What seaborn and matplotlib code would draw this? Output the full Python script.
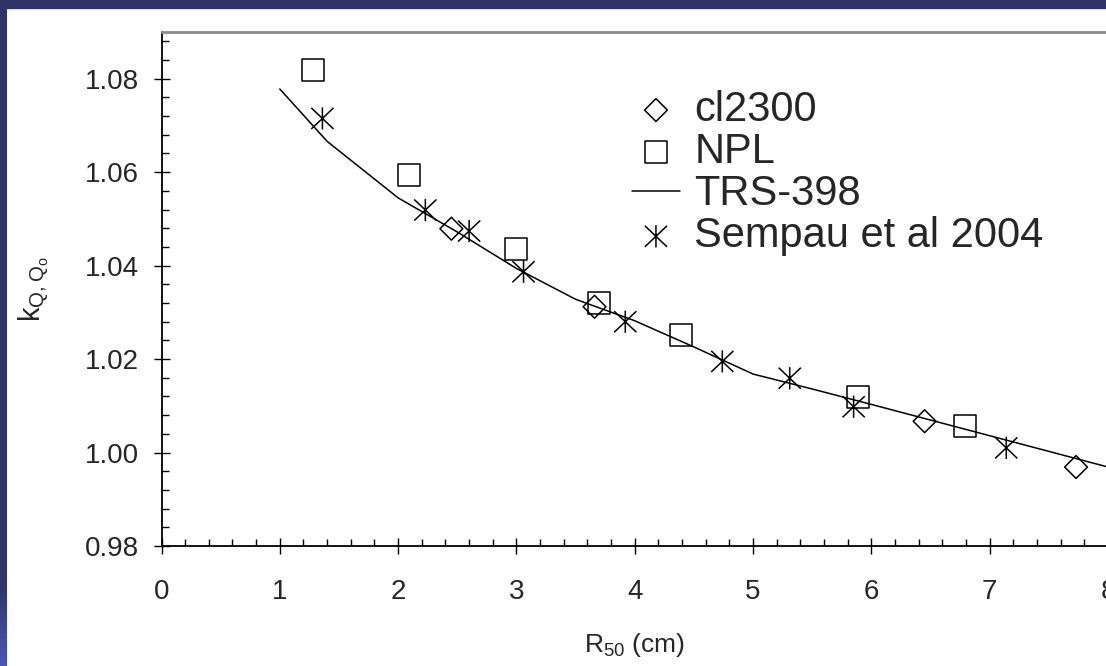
import numpy as np
import matplotlib
matplotlib.use('Agg')
import matplotlib.pyplot as plt
from matplotlib.path import Path
from matplotlib.patches import Rectangle
from matplotlib.ticker import MultipleLocator, FormatStrFormatter
import seaborn as sns

# TRS-398 tabulated curve (R50 in cm -> kQ,Qo)
trs_r50 = [1.0, 1.4, 2.0, 2.5, 3.0, 3.5, 4.0, 4.5, 5.0, 5.5, 6.0, 7.0, 8.0]
trs_kq = [1.0778, 1.0666, 1.0545, 1.0472, 1.0394, 1.0328, 1.0282, 1.0226,
          1.0168, 1.0136, 1.0103, 1.0036, 0.9969]

# cl2300 points
cl2300_r50 = [2.45, 3.66, 6.45, 7.73]
cl2300_kq = [1.0479, 1.0312, 1.0067, 0.9969]

# NPL points
npl_r50 = [1.28, 2.09, 3.00, 3.70, 4.39, 5.89, 6.79]
npl_kq = [1.0819, 1.0593, 1.0436, 1.0321, 1.0251, 1.0118, 1.0057]

# Sempau et al 2004 points
sempau_r50 = [1.36, 2.23, 2.60, 3.06, 3.92, 4.74, 5.31, 5.85, 7.14]
sempau_kq = [1.0715, 1.0519, 1.0474, 1.0387, 1.0280, 1.0195, 1.0159, 1.0098, 1.0010]

sns.set_style('white')
plt.rcParams['font.family'] = ['Liberation Sans', 'DejaVu Sans']
plt.rcParams['mathtext.default'] = 'regular'

W, H = 1106, 666
fig = plt.figure(figsize=(W / 100, H / 100), dpi=100, facecolor='white')

# blue frame (left strip with gradient, top bar)
strip = fig.add_axes([0, 0, 7 / W, 1])
top_c = np.array([46, 52, 104]) / 255
bot_c = np.array([76, 86, 180]) / 255
t = np.linspace(0, 1, 200)
w = np.clip((t - 0.88) / 0.12, 0, 1)
grad = (top_c[None, :] * (1 - w[:, None]) + bot_c[None, :] * w[:, None])[:, None, :]
strip.imshow(grad, aspect='auto', extent=[0, 1, 1, 0])
strip.axis('off')
fig.add_artist(Rectangle((0, 1 - 8 / H), 1, 8 / H, transform=fig.transFigure,
                         color='#2E3468', zorder=5))

ax = fig.add_axes([161.5 / W, 120 / H, (1108 - 161.5) / W, (546 - 32) / H])
ax.set_facecolor('white')

star = Path([(0, -1), (0, 1), (-1, -0.95), (1, 0.95), (-1, 0.95), (1, -0.95)],
            [Path.MOVETO, Path.LINETO] * 3)

sns.scatterplot(x=cl2300_r50, y=cl2300_kq, marker='D', s=135, facecolor='none',
                edgecolor='black', linewidth=1.1, label='cl2300', ax=ax, zorder=3)
sns.scatterplot(x=npl_r50, y=npl_kq, marker='s', s=250, facecolor='none',
                edgecolor='black', linewidth=1.1, label='NPL', ax=ax, zorder=3)
sns.lineplot(x=trs_r50, y=trs_kq, color='black', linewidth=1.1,
             label='TRS-398', ax=ax, zorder=2)
sns.scatterplot(x=sempau_r50, y=sempau_kq, marker=star, s=256, facecolor='none',
                edgecolor='black', linewidth=1.1, label='Sempau et al 2004',
                ax=ax, zorder=3)

ax.set_xlim(0, 8)
ax.set_ylim(0.98, 1.09)
ax.xaxis.set_major_locator(MultipleLocator(1))
ax.xaxis.set_minor_locator(MultipleLocator(0.2))
ax.yaxis.set_major_locator(MultipleLocator(0.02))
ax.yaxis.set_minor_locator(MultipleLocator(0.004))
ax.yaxis.set_major_formatter(FormatStrFormatter('%.2f'))
ax.xaxis.set_major_formatter(FormatStrFormatter('%d'))

ax.tick_params(axis='both', which='major', direction='inout', length=12, width=1,
               color='black', labelsize=20, bottom=True, left=True)
ax.tick_params(axis='x', which='major', pad=18)
ax.tick_params(axis='y', which='major', pad=10)
ax.tick_params(axis='both', which='minor', direction='in', length=5, width=1,
               color='black', bottom=True, left=True)

for side in ['left', 'bottom']:
    ax.spines[side].set_color('black')
    ax.spines[side].set_linewidth(1.3)
ax.spines['top'].set_color('#8c8c8c')
ax.spines['top'].set_linewidth(2)
ax.spines['right'].set_visible(False)

ax.set_xlabel(r'R$_{50}$ (cm)', fontsize=19)
ax.xaxis.set_label_coords(0.5, -0.165)
ax.set_ylabel(r'k$_{Q,Q_o}$', fontsize=21)
ax.yaxis.set_label_coords(-0.116, 0.5)

handles, labels = ax.get_legend_handles_labels()
ax.legend(handles, labels, loc='upper left', bbox_to_anchor=(632 / W, 1 - 90 / H),
          bbox_transform=fig.transFigure, frameon=False, fontsize=30,
          handlelength=1.15, handletextpad=0.35, labelspacing=0.05,
          borderpad=0, borderaxespad=0)

fig.savefig('out.png', dpi=100, facecolor='white')
